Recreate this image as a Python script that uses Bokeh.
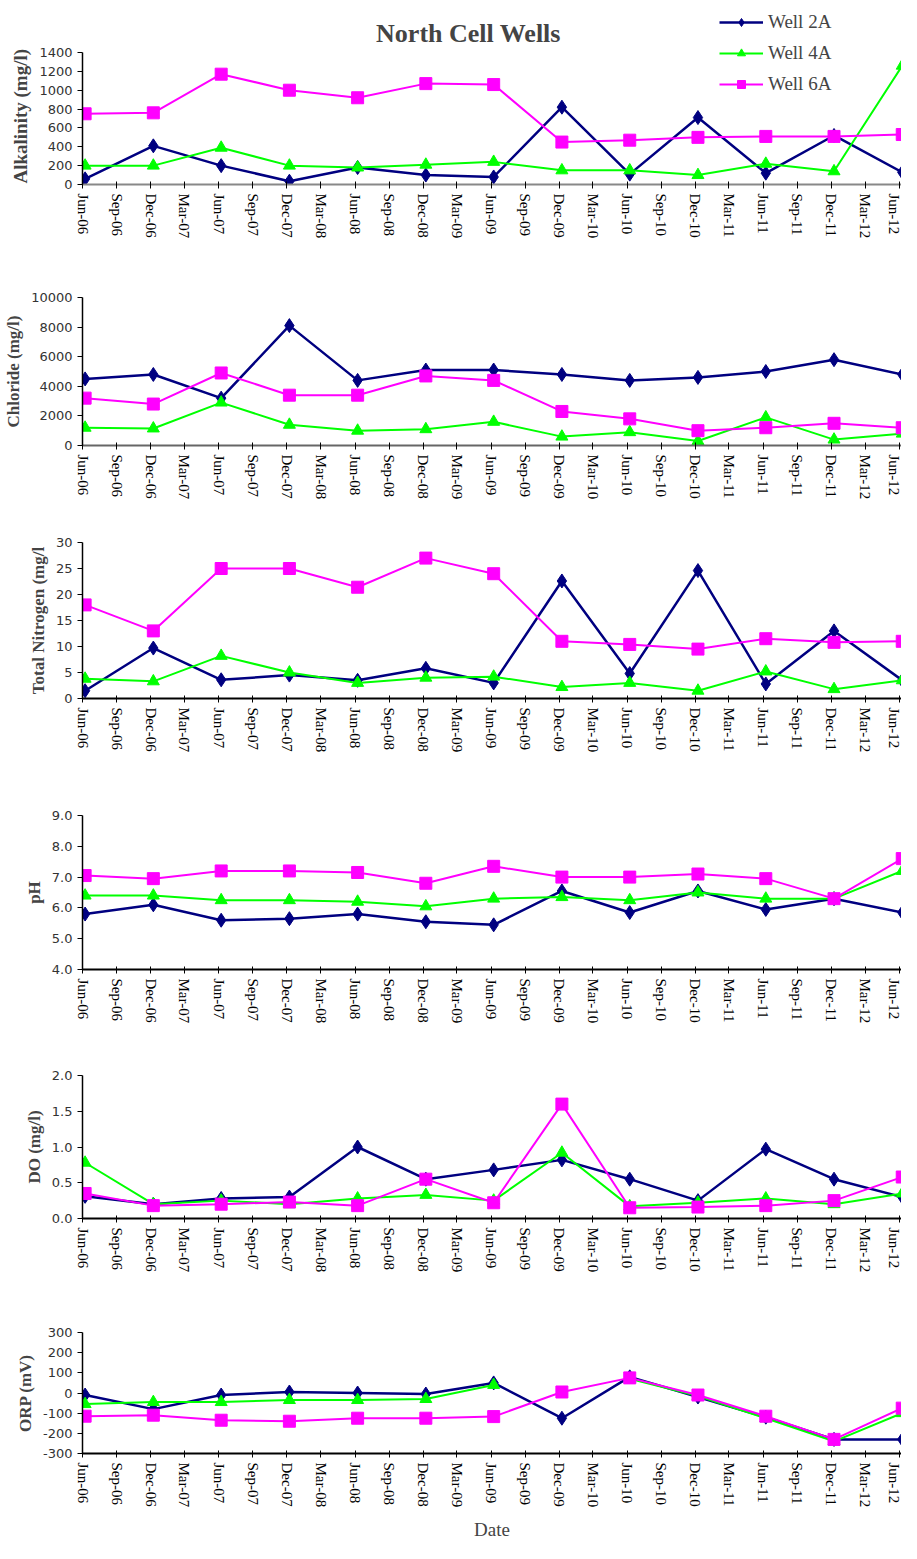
import numpy as np
import pandas as pd
from bokeh.plotting import figure
from bokeh.layouts import column
from bokeh.models import (FixedTicker, DatetimeTickFormatter, Range1d, Legend,
                          LegendItem, NumeralTickFormatter, Label)
from bokeh.embed import file_html
from bokeh.resources import INLINE

# ---------------- data ----------------
sample_dates = ["2006-06-08", "2006-12-08", "2007-06-08", "2007-12-08", "2008-06-08",
                "2008-12-08", "2009-06-08", "2009-12-08", "2010-06-08", "2010-12-08",
                "2011-06-08", "2011-12-08", "2012-06-08"]
tick_months = ["2006-06-01", "2006-09-01", "2006-12-01", "2007-03-01", "2007-06-01",
               "2007-09-01", "2007-12-01", "2008-03-01", "2008-06-01", "2008-09-01",
               "2008-12-01", "2009-03-01", "2009-06-01", "2009-09-01", "2009-12-01",
               "2010-03-01", "2010-06-01", "2010-09-01", "2010-12-01", "2011-03-01",
               "2011-06-01", "2011-09-01", "2011-12-01", "2012-03-01", "2012-06-01"]

series_names = ["Well 2A", "Well 4A", "Well 6A"]

alk_2a = [60, 410, 200, 35, 180, 100, 80, 820, 110, 710, 120, 520, 130]
alk_4a = [200, 200, 390, 200, 180, 210, 240, 150, 150, 100, 220, 140, 1260]
alk_6a = [750, 760, 1170, 1000, 920, 1070, 1060, 450, 470, 500, 510, 510, 530]

cl_2a = [4500, 4800, 3200, 8100, 4400, 5100, 5100, 4800, 4400, 4600, 5000, 5800, 4800]
cl_4a = [1200, 1150, 2900, 1400, 1000, 1100, 1600, 600, 900, 300, 1900, 400, 800]
cl_6a = [3200, 2800, 4900, 3400, 3400, 4700, 4400, 2300, 1800, 1000, 1200, 1500, 1200]

tn_2a = [1.5, 9.7, 3.6, 4.5, 3.5, 5.8, 3.0, 22.6, 4.8, 24.6, 2.8, 13.0, 3.5]
tn_4a = [3.8, 3.3, 8.2, 5.0, 3.0, 4.0, 4.2, 2.2, 3.0, 1.5, 5.2, 1.8, 3.5]
tn_6a = [18.0, 13.0, 25.0, 25.0, 21.4, 27.0, 24.0, 11.0, 10.4, 9.5, 11.5, 10.8, 11.0]

ph_2a = [5.8, 6.1, 5.6, 5.65, 5.8, 5.55, 5.45, 6.55, 5.85, 6.55, 5.95, 6.3, 5.85]
ph_4a = [6.4, 6.4, 6.25, 6.25, 6.2, 6.05, 6.3, 6.35, 6.25, 6.5, 6.3, 6.3, 7.2]
ph_6a = [7.05, 6.95, 7.2, 7.2, 7.15, 6.8, 7.35, 7.0, 7.0, 7.1, 6.95, 6.3, 7.6]

do_2a = [0.31, 0.2, 0.28, 0.3, 1.0, 0.55, 0.68, 0.82, 0.55, 0.25, 0.97, 0.55, 0.3]
do_4a = [0.78, 0.2, 0.25, 0.2, 0.28, 0.33, 0.25, 0.92, 0.17, 0.22, 0.28, 0.2, 0.35]
do_6a = [0.35, 0.18, 0.2, 0.23, 0.18, 0.55, 0.22, 1.6, 0.15, 0.16, 0.18, 0.25, 0.58]

orp_2a = [-10, -80, -10, 5, 0, -5, 50, -125, 80, -20, -120, -230, -230]
orp_4a = [-55, -45, -45, -35, -35, -30, 40, np.nan, 70, -15, -125, -240, -100]
orp_6a = [-115, -110, -135, -140, -125, -125, -117, 5, 75, -10, -115, -230, -75]

# ---------------- styling ----------------
COLORS = ["#000080", "#00FF00", "#FF00FF"]
MARKERS = ["diamond", "triangle", "square"]
MSIZES = [14, 12, 12]
LWIDTHS = [2.5, 2, 2]

dates = pd.to_datetime(sample_dates)
ticks = [pd.Timestamp(t).value / 1e6 for t in tick_months]
x_range = Range1d(pd.Timestamp("2006-06-01"), pd.Timestamp("2012-06-06"))

SERIF = "Liberation Serif"
SANS = "DejaVu Sans"


def make_panel(ylabel, ymin, ymax, ystep, yfmt, values, height, btop, bbottom, bleft,
               xaxis_color="black", ytop=None):
    p = figure(width=901, height=height, x_axis_type="datetime", x_range=x_range,
               y_range=Range1d(ymin, ymax if ytop is None else ytop),
               output_backend="svg", toolbar_location=None,
               min_border_left=bleft, min_border_right=0, min_border_top=btop,
               min_border_bottom=bbottom)
    p.outline_line_color = None
    p.grid.grid_line_color = None
    p.background_fill_color = "white"

    renderers = []
    for vals, c, m, ms, lw in zip(values, COLORS, MARKERS, MSIZES, LWIDTHS):
        r1 = p.line(dates, vals, line_color=c, line_width=lw)
        r2 = p.scatter(dates, vals, marker=m, size=ms, fill_color=c, line_color=c)
        renderers.append([r1, r2])

    xa = p.xaxis[0]
    xa.ticker = FixedTicker(ticks=ticks)
    xa.formatter = DatetimeTickFormatter(days="%b-%y", months="%b-%y", years="%b-%y",
                                         hours="%b-%y", minutes="%b-%y")
    xa.major_label_orientation = "vertical"
    xa.major_label_text_font = SERIF
    xa.major_label_text_font_size = "15px"
    xa.major_label_text_color = "black"
    xa.axis_line_color = xaxis_color
    xa.axis_line_width = 2
    xa.major_tick_line_color = "black"
    xa.major_tick_in = 3
    xa.major_tick_out = 4
    xa.minor_tick_line_color = None

    ya = p.yaxis[0]
    ticks_y = list(np.arange(ymin, ymax + ystep / 2, ystep))
    ya.ticker = FixedTicker(ticks=ticks_y)
    ya.bounds = (ymin, ymax)
    ya.formatter = NumeralTickFormatter(format=yfmt)
    ya.major_label_text_font = SANS
    ya.major_label_text_font_size = "13px"
    ya.major_label_text_color = "#333333"
    ya.axis_line_color = "black"
    ya.axis_line_width = 1.5
    ya.major_tick_in = 0
    ya.major_tick_out = 5
    ya.minor_tick_line_color = None
    ya.axis_label = ylabel
    ya.axis_label_text_font = SERIF
    ya.axis_label_text_font_style = "bold"
    ya.axis_label_text_font_size = "17px"
    ya.axis_label_standoff = 5
    return p, renderers


# panel 1: frame extends to the figure top so that title and legend can sit in it;
# the y axis itself is bounded to 0..1400.  Trailing no-break spaces move the
# (frame-centred) axis title down next to the bounded axis.
p1_ytop = 1400 * (192 - 8) / (192 - 60)
p1, rs = make_panel("Alkalinity (mg/l)" + "\u00a0" * 10, 0, 1400, 200, "0",
                    [alk_2a, alk_4a, alk_6a],
                    252, 0, 68, 78, xaxis_color="#888888", ytop=p1_ytop)
p1.yaxis[0].axis_label_text_font_size = "19px"
p1.add_layout(Label(x=386, y=151, x_units="screen", y_units="screen",
                    text="North Cell Wells", text_font=SERIF, text_font_size="26px",
                    text_font_style="bold", text_align="center", text_baseline="middle"))
legend = Legend(items=[LegendItem(label=n, renderers=r) for n, r in zip(series_names, rs)],
                location=(637, 89), glyph_width=44, glyph_height=20, spacing=9,
                padding=2, label_text_font=SERIF, label_text_font_size="19px",
                border_line_color=None, background_fill_alpha=0)
p1.add_layout(legend)

p2, _ = make_panel("Chloride (mg/l)", 0, 10000, 2000, "0", [cl_2a, cl_4a, cl_6a],
                   261, 45, 68, 80, xaxis_color="#666666")
p3, _ = make_panel("Total Nitrogen (mg/l", 0, 30, 5, "0", [tn_2a, tn_4a, tn_6a],
                   253, 29, 68, 72)
p4, _ = make_panel("pH", 4, 9, 1, "0.0", [ph_2a, ph_4a, ph_6a],
                   271, 49, 68, 72)
p5, _ = make_panel("DO (mg/l)", 0, 2, 0.5, "0.0", [do_2a, do_4a, do_6a],
                   249, 38, 68, 74)
p6, _ = make_panel("ORP (mV)", -300, 300, 100, "0", [orp_2a, orp_4a, orp_6a],
                   257, 46, 86, 82)
p6.xaxis[0].axis_label = "Date"
p6.xaxis[0].axis_label_text_font = SERIF
p6.xaxis[0].axis_label_text_font_style = "normal"
p6.xaxis[0].axis_label_text_font_size = "19px"
p6.xaxis[0].axis_label_standoff = 9

layout = column(p1, p2, p3, p4, p5, p6)
open("out.html", "w").write(file_html(layout, INLINE))
